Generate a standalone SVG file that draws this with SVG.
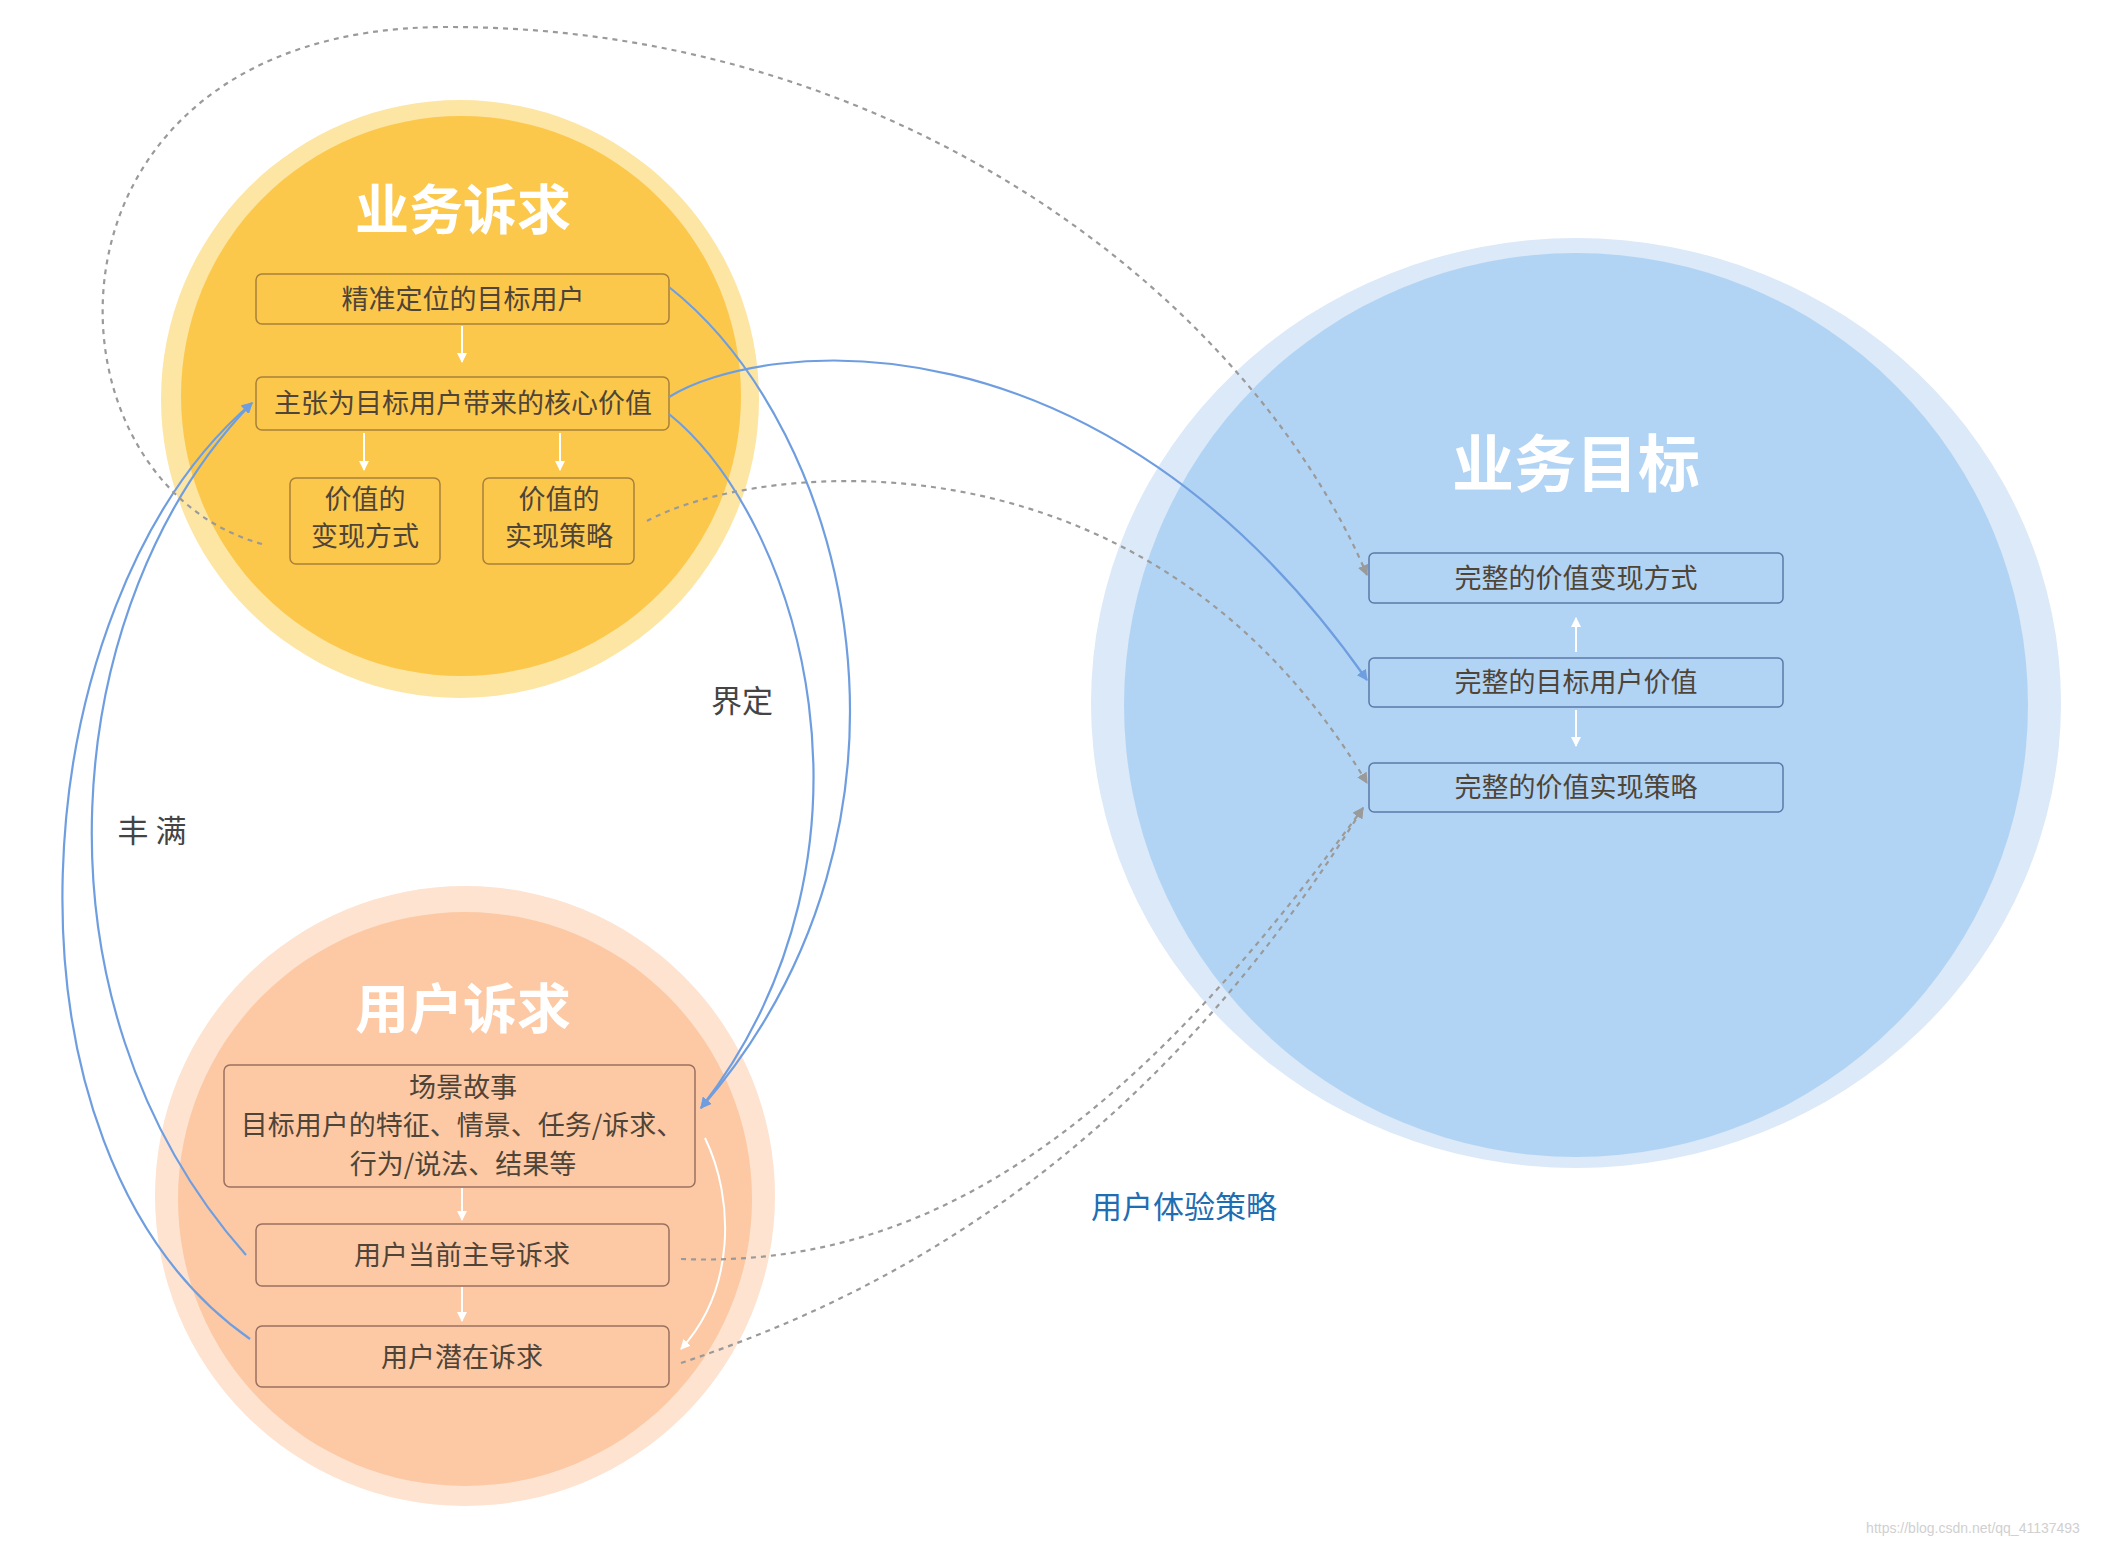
<svg xmlns="http://www.w3.org/2000/svg" width="2105" height="1547" viewBox="0 0 2105 1547">
<defs>
<style>
text{font-family:"Noto Sans CJK SC","Liberation Sans",sans-serif;text-anchor:middle}
.t{font-size:27px;fill:#4f4438}
.title{font-size:54px;font-weight:bold;fill:#fff}
.by{fill:none;stroke:#a8803a;stroke-width:1.5}
.bo{fill:none;stroke:#9a7060;stroke-width:1.5}
.bb{fill:none;stroke:#5b7aa8;stroke-width:1.5}
.w{stroke:#fff;stroke-width:2;fill:none}
.blue{stroke:#6f9ee0;stroke-width:2.2;fill:none}
.dash{stroke:#9a9a9a;stroke-width:2.2;fill:none;stroke-dasharray:5 5}
.lbl{font-size:31px;fill:#444}
</style>
<marker id="aw" viewBox="0 0 10 10" refX="9" refY="5" markerWidth="5" markerHeight="5" orient="auto"><path d="M0,0L10,5L0,10z" fill="#fff"/></marker>
<marker id="ab" viewBox="0 0 10 10" refX="9" refY="5" markerWidth="5" markerHeight="5" orient="auto"><path d="M0,0L10,5L0,10z" fill="#6f9ee0"/></marker>
<marker id="ag" viewBox="0 0 10 10" refX="9" refY="5" markerWidth="5" markerHeight="5" orient="auto"><path d="M0,0L10,5L0,10z" fill="#9a9a9a"/></marker>
</defs>
<rect width="2105" height="1547" fill="#fff"/>
<g id="yellow">
<circle cx="460" cy="399" r="299" fill="#fde5a3"/>
<circle cx="461" cy="396" r="280" fill="#fcc84c"/>
<text class="title" x="463" y="230">业务诉求</text>
<rect class="by" x="256" y="274" width="413" height="50" rx="6"/>
<text class="t" x="463" y="309">精准定位的目标用户</text>
<rect class="by" x="256" y="377" width="413" height="53" rx="6"/>
<text class="t" x="463" y="413">主张为目标用户带来的核心价值</text>
<rect class="by" x="290" y="478" width="150" height="86" rx="6"/>
<text class="t" x="365" y="509">价值的</text><text class="t" x="365" y="546">变现方式</text>
<rect class="by" x="483" y="478" width="151" height="86" rx="6"/>
<text class="t" x="559" y="509">价值的</text><text class="t" x="559" y="546">实现策略</text>
<line class="w" x1="462" y1="326" x2="462" y2="362" marker-end="url(#aw)"/>
<line class="w" x1="364" y1="433" x2="364" y2="470" marker-end="url(#aw)"/>
<line class="w" x1="560" y1="433" x2="560" y2="470" marker-end="url(#aw)"/>
</g>
<g id="orange">
<circle cx="465" cy="1196" r="310" fill="#fde3d0"/>
<circle cx="465" cy="1199" r="287" fill="#fcc9a4"/>
<text class="title" x="463" y="1029">用户诉求</text>
<rect class="bo" x="224" y="1065" width="471" height="122" rx="6"/>
<text class="t" x="463" y="1097">场景故事</text>
<text class="t" x="462" y="1135">目标用户的特征、情景、任务/诉求、</text>
<text class="t" x="463" y="1174">行为/说法、结果等</text>
<rect class="bo" x="256" y="1224" width="413" height="62" rx="6"/>
<text class="t" x="462" y="1265">用户当前主导诉求</text>
<rect class="bo" x="256" y="1326" width="413" height="61" rx="6"/>
<text class="t" x="462" y="1367">用户潜在诉求</text>
<line class="w" x1="462" y1="1188" x2="462" y2="1220" marker-end="url(#aw)"/>
<line class="w" x1="462" y1="1287" x2="462" y2="1321" marker-end="url(#aw)"/>
<path class="w" d="M705,1138 C735,1200 735,1290 681,1349" marker-end="url(#aw)"/>
</g>
<g id="blue">
<ellipse cx="1576" cy="703" rx="485" ry="465" fill="#dce9f8"/>
<circle cx="1576" cy="705" r="452" fill="#b2d4f4"/>
<text class="title" x="1576" y="487" style="font-size:62px">业务目标</text>
<rect class="bb" x="1369" y="553" width="414" height="50" rx="5"/>
<text class="t" x="1576" y="588">完整的价值变现方式</text>
<rect class="bb" x="1369" y="658" width="414" height="49" rx="5"/>
<text class="t" x="1576" y="692">完整的目标用户价值</text>
<rect class="bb" x="1369" y="763" width="414" height="49" rx="5"/>
<text class="t" x="1576" y="797">完整的价值实现策略</text>
<line class="w" x1="1576" y1="652" x2="1576" y2="618" marker-end="url(#aw)"/>
<line class="w" x1="1576" y1="710" x2="1576" y2="746" marker-end="url(#aw)"/>
</g>
<g id="connectors">
<path class="blue" d="M669,287 C850,430 950,820 701,1108" marker-end="url(#ab)"/>
<path class="blue" d="M669,414 C800,520 900,850 701,1108" marker-end="url(#ab)"/>
<path class="blue" d="M669,397 C760,340 1100,300 1367,680" marker-end="url(#ab)"/>
<path class="blue" d="M246,1255 C20,1000 60,600 252,403" marker-end="url(#ab)"/>
<path class="blue" d="M250,1339 C-20,1150 20,600 252,403" marker-end="url(#ab)"/>
<path class="dash" d="M262,544 C30,480 20,30 443,27 C900,25 1250,300 1367,575" marker-end="url(#ag)"/>
<path class="dash" d="M647,521 C760,460 1150,420 1367,783" marker-end="url(#ag)"/>
<path class="dash" d="M681,1259 C950,1270 1150,1100 1363,808" marker-end="url(#ag)"/>
<path class="dash" d="M681,1363 C900,1290 1150,1150 1363,808" marker-end="url(#ag)"/>
</g>
<text class="lbl" x="742" y="712">界定</text>
<text class="lbl" x="152" y="842">丰 满</text>
<text class="lbl" x="1184" y="1218" style="fill:#1f6db3">用户体验策略</text>
<text x="1973" y="1533" style="font-size:14px;fill:#d0d0d0;font-family:'Liberation Sans',sans-serif">https://blog.csdn.net/qq_41137493</text>
</svg>
